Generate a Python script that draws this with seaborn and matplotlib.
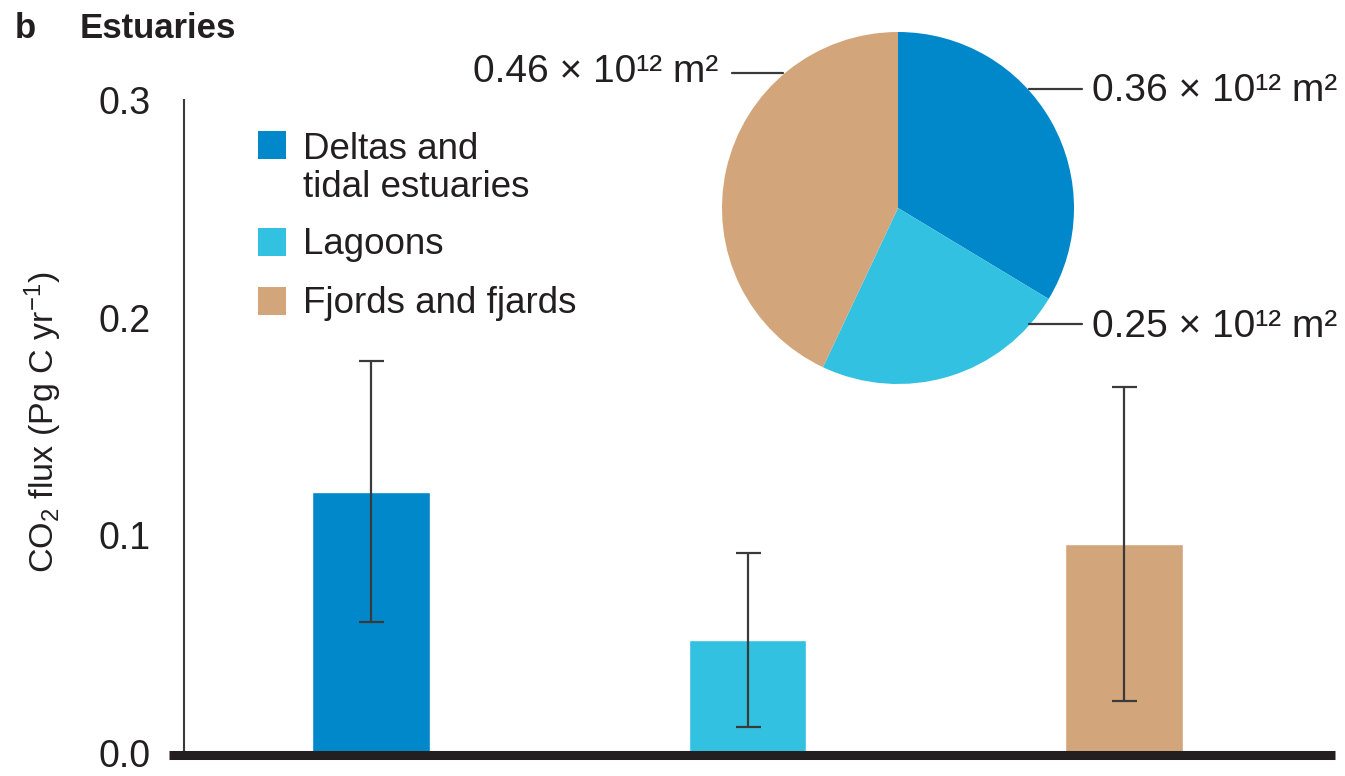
import matplotlib
matplotlib.use("Agg")
import matplotlib.pyplot as plt
from matplotlib.patches import Rectangle
import pandas as pd
import seaborn as sns

# Estuary types, their CO2 flux (Pg C per year) with uncertainty, and surface areas
categories = ["Deltas and\ntidal estuaries", "Lagoons", "Fjords and fjards"]
flux = [0.12, 0.052, 0.096]
flux_err = [0.06, 0.04, 0.072]
area = [0.36, 0.25, 0.46]
area_labels = ["0.36 × 10¹² m²", "0.25 × 10¹² m²", "0.46 × 10¹² m²"]
yticks = [0.0, 0.1, 0.2, 0.3]
ytick_labels = ["0.0", "0.1", "0.2", "0.3"]
colors = ["#0088CB", "#33C1E2", "#D3A57B"]

DARK = "#231F20"
LINE = "#3A3A3A"

sns.set_style("white")
plt.rcParams["font.family"] = ["Liberation Sans", "DejaVu Sans"]
plt.rcParams["mathtext.fontset"] = "custom"
plt.rcParams["mathtext.rm"] = "Liberation Sans"
plt.rcParams["mathtext.default"] = "regular"

W, H = 1345, 776
fig = plt.figure(figsize=(W / 100, H / 100), dpi=100)


def fx(px):
    return px / W


def fy(py):
    return 1 - py / H


# ---- bar chart of fluxes ----
ax = fig.add_axes([fx(184), fy(753), fx(1335) - fx(184), fy(100) - fy(753)])
df = pd.DataFrame({"kind": categories, "flux": flux})
sns.barplot(data=df, x="kind", y="flux", hue="kind", order=categories,
            hue_order=categories, palette=colors, saturation=1, width=0.313,
            legend=False, ax=ax)
ax.errorbar(range(len(flux)), flux, yerr=flux_err, fmt="none", ecolor=LINE,
            elinewidth=1.6, capsize=9, capthick=1.6, zorder=3)

ax.set_xlim(-0.4967, 2.5604)
ax.set_ylim(0, 0.3)
ax.set_xticks([])
ax.set_xlabel("")
ax.set_ylabel("")
ax.set_yticks(yticks)
ax.set_yticklabels(ytick_labels)
for side in ("top", "right", "bottom"):
    ax.spines[side].set_visible(False)
ax.spines["left"].set_linewidth(1.5)
ax.spines["left"].set_color(LINE)
ax.tick_params(axis="y", direction="out", length=10.8, width=1.5, color=LINE,
               pad=13, labelsize=27, labelcolor=DARK)
ax.patch.set_alpha(0)

# heavy baseline running under the bars
ax.plot([-0.5365, 2.5604], [-0.001, -0.001], color=DARK, lw=6.5,
        solid_capstyle="butt", clip_on=False, zorder=4)

fig.text(fx(43), fy(422), "CO$_2$ flux (Pg C yr$^{-1}$)", rotation=90,
         ha="center", va="center", fontsize=24.5, color=DARK)

# panel title
fig.text(fx(15), fy(38), "b", fontweight="bold", fontsize=25, color=DARK,
         va="baseline")
fig.text(fx(80), fy(38), "Estuaries", fontweight="bold", fontsize=25,
         color=DARK, va="baseline")

# ---- legend (baseline of each label's last line) ----
square_tops = [131, 228, 287]
baselines = [197, 254, 313]
for top, base, lab, col in zip(square_tops, baselines, categories, colors):
    fig.add_artist(Rectangle((fx(258), fy(top + 28)), 28 / W, 28 / H,
                             transform=fig.transFigure, facecolor=col,
                             edgecolor="none"))
    fig.text(fx(303), fy(base), lab, fontsize=26.5, color=DARK, va="baseline",
             ha="left", linespacing=1.12)

# ---- pie of surface areas ----
axp = fig.add_axes([fx(722), fy(384), 352 / W, 352 / H])
axp.pie(area, colors=colors, startangle=90, counterclock=False,
        wedgeprops=dict(linewidth=0))
axp.set_xlim(-1, 1)
axp.set_ylim(-1, 1)
axp.set_aspect("equal")
axp.axis("off")

# leader lines and area labels (pie-radius units)
leaders = [
    ((0.744, 1.045), 0.676, 1.102, 0.608, "left"),
    ((0.744, 1.045), -0.659, 1.102, -0.733, "left"),
    ((-0.943, -0.653), 0.767, -1.02, 0.716, "right"),
]
for (x0, x1), ly, tx, ty, ha in leaders:
    axp.plot([x0, x1], [ly, ly], color=LINE, lw=1.6, clip_on=False)
for (x0x1, ly, tx, ty, ha), lab in zip(leaders, area_labels):
    axp.text(tx, ty, lab, fontsize=28, color=DARK, ha=ha, va="baseline",
             clip_on=False)

fig.savefig("out.png", dpi=100)
